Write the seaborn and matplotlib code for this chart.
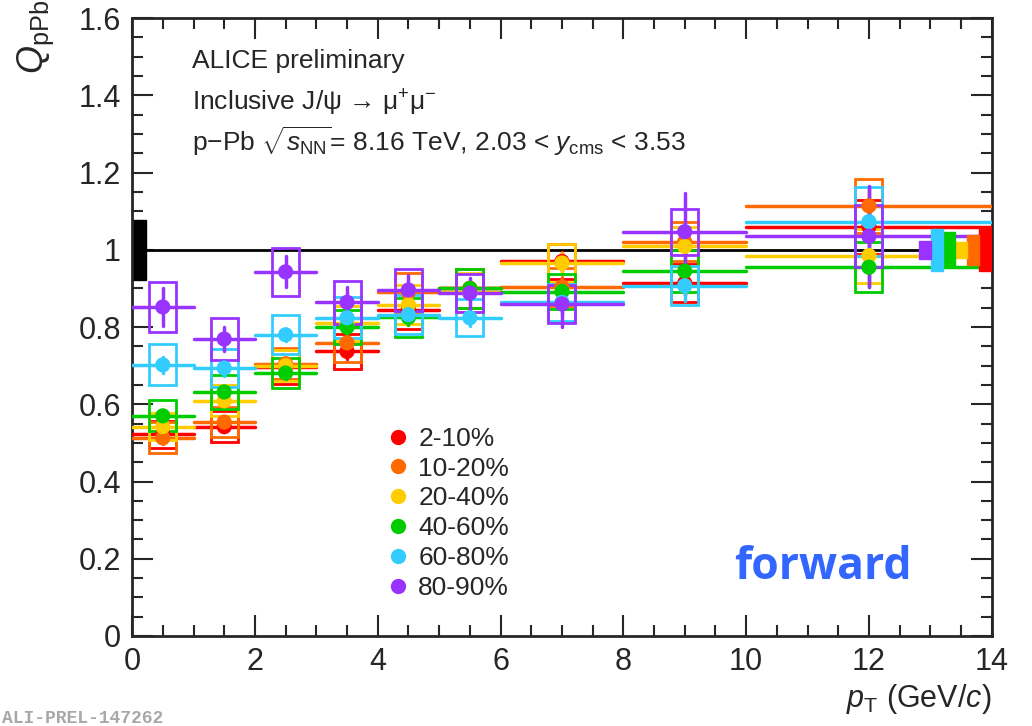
#Q_pPb vs pT for centrality classes - forward rapidity
import numpy as np
import pandas as pd
import matplotlib
matplotlib.use('Agg')
import matplotlib.pyplot as plt
from matplotlib.patches import Rectangle
from matplotlib.lines import Line2D
from matplotlib.ticker import MultipleLocator, FormatStrFormatter
import seaborn as sns

#pT bins
bin_lo = [0, 1, 2, 3, 4, 5, 6, 8, 10]
bin_hi = [1, 2, 3, 4, 5, 6, 8, 10, 14]
pt = [0.5, 1.5, 2.5, 3.5, 4.5, 5.5, 7, 9, 12]

classes = ['2-10%', '10-20%', '20-40%', '40-60%', '60-80%', '80-90%']
colors = ['#ff0000', '#ff6a00', '#ffcc00', '#00cc00', '#33ccff', '#9933ff']

#values
q_2_10 = [0.523, 0.542, 0.697, 0.737, 0.845, 0.900, 0.970, 0.914, 1.060]
q_10_20 = [0.513, 0.554, 0.705, 0.759, 0.890, 0.900, 0.904, 1.021, 1.114]
q_20_40 = [0.542, 0.609, 0.700, 0.810, 0.858, 0.890, 0.966, 1.009, 0.985]
q_40_60 = [0.570, 0.632, 0.681, 0.800, 0.825, 0.900, 0.892, 0.945, 0.955]
q_60_80 = [0.702, 0.694, 0.780, 0.824, 0.832, 0.824, 0.864, 0.907, 1.073]
q_80_90 = [0.852, 0.769, 0.943, 0.864, 0.896, 0.888, 0.860, 1.047, 1.035]

#statistical errors (vertical bars)
stat_2_10 = [0.015, 0.015, 0.015, 0.02, 0.02, 0.02, 0.025, 0.03, 0.05]
stat_10_20 = [0.015, 0.015, 0.015, 0.02, 0.02, 0.02, 0.025, 0.03, 0.05]
stat_20_40 = [0.015, 0.015, 0.015, 0.02, 0.02, 0.02, 0.025, 0.03, 0.05]
stat_40_60 = [0.015, 0.015, 0.015, 0.02, 0.02, 0.02, 0.025, 0.03, 0.05]
stat_60_80 = [0.02, 0.02, 0.015, 0.02, 0.02, 0.02, 0.03, 0.04, 0.06]
stat_80_90 = [0.05, 0.03, 0.04, 0.04, 0.04, 0.04, 0.06, 0.10, 0.13]

#systematic errors (boxes)
sys_2_10 = [0.035, 0.040, 0.045, 0.045, 0.050, 0.050, 0.045, 0.050, 0.070]
sys_10_20 = [0.040, 0.038, 0.040, 0.050, 0.050, 0.050, 0.050, 0.050, 0.070]
sys_20_40 = [0.035, 0.040, 0.040, 0.045, 0.050, 0.050, 0.050, 0.050, 0.070]
sys_40_60 = [0.040, 0.045, 0.040, 0.045, 0.050, 0.050, 0.045, 0.055, 0.065]
sys_60_80 = [0.053, 0.050, 0.050, 0.053, 0.050, 0.048, 0.048, 0.050, 0.090]
sys_80_90 = [0.065, 0.055, 0.063, 0.055, 0.055, 0.050, 0.050, 0.060, 0.080]

#global uncertainties (filled boxes at right) and common one at 1 (left)
glob_unc = [0.054, 0.038, 0.021, 0.045, 0.054, 0.024]
common_unc = 0.078

q_all = [q_2_10, q_10_20, q_20_40, q_40_60, q_60_80, q_80_90]
stat_all = [stat_2_10, stat_10_20, stat_20_40, stat_40_60, stat_60_80, stat_80_90]
sys_all = [sys_2_10, sys_10_20, sys_20_40, sys_40_60, sys_60_80, sys_80_90]

rows = []
for c, q in zip(classes, q_all):
    for x, v in zip(pt, q):
        rows.append({'pt': x, 'Q': v, 'cent': c})
df = pd.DataFrame(rows)

sns.set_style('ticks')
plt.rcParams['font.family'] = ['Liberation Sans', 'DejaVu Sans']
plt.rcParams['mathtext.fontset'] = 'custom'
plt.rcParams['mathtext.rm'] = 'Liberation Sans'
plt.rcParams['mathtext.it'] = 'Liberation Sans:italic'
plt.rcParams['mathtext.sf'] = 'Liberation Sans'

fig = plt.figure(figsize=(10.32, 7.26), dpi=100)
ax = fig.add_axes([0.128, 0.124, 0.833, 0.851])

#line at 1 and common uncertainty
ax.axhline(1.0, color='black', lw=2, zorder=1)
ax.add_patch(Rectangle((0, 1 - common_unc), 0.22, 2 * common_unc, color='black', zorder=2))

box_w = 0.22
for i, c in enumerate(classes):
    col = colors[i]
    q = q_all[i]
    for j in range(len(pt)):
        ax.plot([bin_lo[j], bin_hi[j]], [q[j], q[j]], color=col, lw=2.5, zorder=3 + i)
        ax.plot([pt[j], pt[j]], [q[j] - stat_all[i][j], q[j] + stat_all[i][j]], color=col, lw=2.5, zorder=3 + i)
        ax.add_patch(Rectangle((pt[j] - box_w, q[j] - sys_all[i][j]), 2 * box_w, 2 * sys_all[i][j],
                               fill=False, edgecolor=col, lw=2, zorder=3 + i))
    #global box, order purple..red from left
    k = 5 - i
    x0 = 12.81 + k * 0.198
    ax.add_patch(Rectangle((x0, 1 - glob_unc[i]), 0.198, 2 * glob_unc[i], color=col, zorder=10))

for i, c in enumerate(classes):
    sns.scatterplot(data=df[df['cent'] == c], x='pt', y='Q', color=colors[i], s=120,
                    edgecolor='none', legend=False, ax=ax, zorder=20 + i)

ax.set_xlim(0, 14)
ax.set_ylim(0, 1.6)
ax.xaxis.set_major_locator(MultipleLocator(2))
ax.xaxis.set_minor_locator(MultipleLocator(0.5))
ax.yaxis.set_major_locator(MultipleLocator(0.2))
ax.yaxis.set_minor_locator(MultipleLocator(0.05))
ax.yaxis.set_major_formatter(FormatStrFormatter('%g'))
ax.xaxis.set_major_formatter(FormatStrFormatter('%g'))
ax.tick_params(which='both', direction='in', top=True, right=True, width=1.5, labelsize=22)
ax.tick_params(which='major', length=15, pad=8)
ax.tick_params(which='minor', length=8)
for s in ax.spines.values():
    s.set_linewidth(2)

ax.set_xlabel(r'$p_{\rm T}$ (GeV/$c$)', fontsize=22, loc='right')
ax.set_ylabel(r'$Q_{\rm pPb}$', fontsize=26, loc='top')
ax.yaxis.set_label_coords(-0.088, 1.03)
ax.xaxis.set_label_coords(1.0, -0.075)

#text
ax.text(0.07, 0.92, 'ALICE preliminary', transform=ax.transAxes, fontsize=19)
ax.text(0.07, 0.85, 'Inclusive J/ψ → μ$^{+}$μ$^{-}$', transform=ax.transAxes, fontsize=19)
ax.text(0.07, 0.785, r'p$-$Pb $\sqrt{s_{\rm NN}}$= 8.16 TeV, 2.03 < $y_{\rm cms}$ < 3.53',
        transform=ax.transAxes, fontsize=19)
ax.text(0.70, 0.092, 'forward', transform=ax.transAxes, fontsize=32, fontweight='bold',
        color='#3366ff', family='Open Sans')

#legend
handles = [Line2D([], [], marker='o', ls='none', color=col, markersize=10) for col in colors]
ax.legend(handles, classes, loc='upper left', bbox_to_anchor=(0.276, 0.36), frameon=False,
          fontsize=19, handletextpad=0.15, labelspacing=0.22, handlelength=1.2, borderpad=0)

fig.text(0.002, 0.004, 'ALI-PREL-147262', color='#a8a8a8', fontsize=13, family='Liberation Mono',
         fontweight='bold')

plt.savefig('out.png', dpi=100)
